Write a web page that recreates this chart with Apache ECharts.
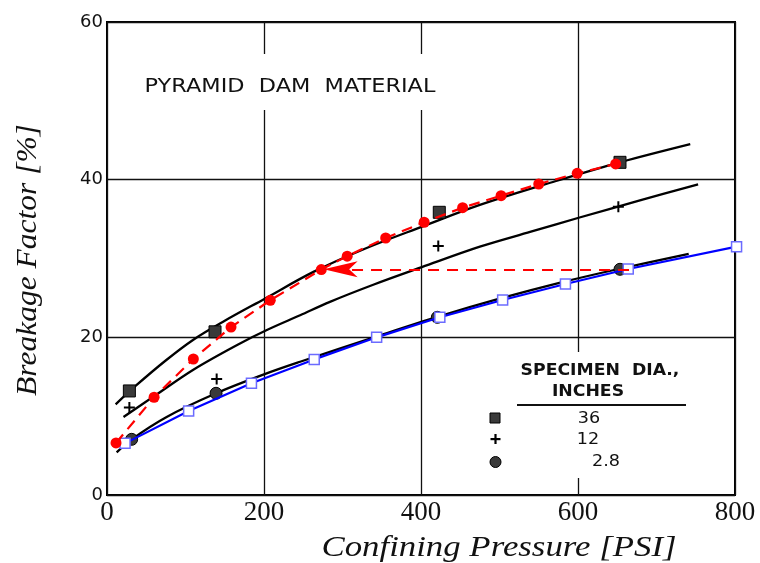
<!DOCTYPE html>
<html><head><meta charset="utf-8">
<script src="https://cdn.jsdelivr.net/npm/echarts@6/dist/echarts.min.js"></script>
<style>html,body{margin:0;padding:0;background:#fff}#c{width:760px;height:563px}</style>
</head><body><div id="c"></div>
<script>
// axis ranges
const xMin = 0, xMax = 800, xStep = 200;
const yMin = 0, yMax = 60, yStep = 20;

// black fitted curves (original figure)
const curve36X = [11, 36, 74, 110, 150, 201, 263, 330, 403, 475, 571, 653.5, 743];
const curve36Y = [11.5, 13.8, 17.0, 19.7, 22.1, 24.9, 28.3, 31.3, 34.1, 36.8, 39.8, 42.2, 44.5];
const curve12X = [21, 61, 110, 167, 203, 246, 284, 340, 401, 475, 540, 602, 680, 753];
const curve12Y = [9.9, 12.6, 15.9, 19.1, 20.9, 22.8, 24.5, 26.7, 28.9, 31.5, 33.4, 35.2, 37.4, 39.4];
const curve28X = [12.3, 31.4, 76, 139, 200, 246, 343, 421, 500, 580, 653, 741];
const curve28Y = [5.4, 7.06, 9.9, 12.9, 15.3, 16.9, 20.1, 22.6, 24.9, 27.0, 28.7, 30.6];

// original measured points by specimen diameter
const sq36X = [28.5, 137.6, 423.3, 653.5];
const sq36Y = [13.2, 20.7, 35.86, 42.2];
const plus12X = [28.5, 139.7, 422, 651.4];
const plus12Y = [11.1, 14.7, 31.6, 36.57];
const circ28X = [31.4, 138.9, 420.8, 653.5];
const circ28Y = [7.06, 12.9, 22.54, 28.63];

// red digitised (dashed) series
const redX = [11.5, 60, 110, 158, 208, 273, 306, 355, 404, 453, 502, 550, 599, 648];
const redY = [6.6, 12.4, 17.25, 21.3, 24.7, 28.6, 30.3, 32.6, 34.6, 36.45, 37.97, 39.45, 40.8, 42.0];

const blueX = [23, 104, 184, 264, 343.5, 424, 504, 584, 664, 802];
const blueY = [6.55, 10.66, 14.17, 17.2, 20.0, 22.54, 24.74, 26.77, 28.67, 31.5];

// red arrow (from 2.8" level to 36" curve)
const arrowFrom = [665, 28.63];
const arrowTo = [276, 28.63];

// texts
const titleText = 'PYRAMID  DAM  MATERIAL';
const xName = 'Confining Pressure [PSI]';
const yName = 'Breakage Factor [%]';
const legendTitle1 = 'SPECIMEN  DIA.,';
const legendTitle2 = 'INCHES';
const legendLabels = ['36', '12', '2.8'];

const zip = (xs, ys) => xs.map((x, i) => [x, ys[i]]);
const plusPath = 'path://M4.5,0 H6.5 V4.5 H11 V6.5 H6.5 V11 H4.5 V6.5 H0 V4.5 H4.5 Z';

const chart = echarts.init(document.getElementById('c'), null, {renderer: 'canvas'});

const curveStyle = {color: '#000', width: 2.3};
function curve(xs, ys) {
  return {type: 'line', data: zip(xs, ys), showSymbol: false, smooth: 0.35,
    lineStyle: curveStyle, z: 2, silent: true, animation: false};
}

const option = {
  backgroundColor: '#fff',
  animation: false,
  grid: {left: 107, right: 25, top: 22, bottom: 68, show: true, borderColor: '#000', borderWidth: 2, backgroundColor: 'transparent'},
  xAxis: {
    type: 'value', min: xMin, max: xMax, interval: xStep,
    axisLine: {show: false}, axisTick: {show: false},
    splitLine: {show: true, lineStyle: {color: '#111', width: 1.3}},
    axisLabel: {fontFamily: 'Liberation Serif', fontSize: 27, color: '#111', margin: 4}
  },
  yAxis: {
    type: 'value', min: yMin, max: yMax, interval: yStep,
    axisLine: {show: false}, axisTick: {show: false},
    splitLine: {show: true, lineStyle: {color: '#111', width: 1.3}},
    axisLabel: {fontFamily: 'DejaVu Sans', fontSize: 18, color: '#111', margin: 4}
  },
  graphic: [
    // gaps in grid lines behind texts
    {type: 'rect', shape: {x: 140, y: 54, width: 300, height: 56}, style: {fill: '#fff'}, z: 1},
    {type: 'rect', shape: {x: 485, y: 352, width: 205, height: 126}, style: {fill: '#fff'}, z: 1},
    {type: 'text', x: 290, y: 87, scaleX: 1.18, z: 10,
      style: {text: titleText, fontFamily: 'DejaVu Sans', fontSize: 19, fill: '#111', align: 'center', verticalAlign: 'middle'}},
    {type: 'text', x: 600, y: 371, scaleX: 1.15, z: 10,
      style: {text: legendTitle1, fontFamily: 'DejaVu Sans', fontWeight: 'bold', fontSize: 15, fill: '#111', align: 'center', verticalAlign: 'middle'}},
    {type: 'text', x: 588, y: 392, scaleX: 1.15, z: 10,
      style: {text: legendTitle2, fontFamily: 'DejaVu Sans', fontWeight: 'bold', fontSize: 15, fill: '#111', align: 'center', verticalAlign: 'middle'}},
    {type: 'line', shape: {x1: 517, y1: 405, x2: 686, y2: 405}, style: {stroke: '#111', lineWidth: 2.2}, z: 10},
    {type: 'text', x: 589, y: 419, scaleX: 1.1, z: 10,
      style: {text: legendLabels[0], fontFamily: 'DejaVu Sans', fontSize: 16, fill: '#111', align: 'center', verticalAlign: 'middle'}},
    {type: 'text', x: 588, y: 440, scaleX: 1.1, z: 10,
      style: {text: legendLabels[1], fontFamily: 'DejaVu Sans', fontSize: 16, fill: '#111', align: 'center', verticalAlign: 'middle'}},
    {type: 'text', x: 606, y: 462, scaleX: 1.1, z: 10,
      style: {text: legendLabels[2], fontFamily: 'DejaVu Sans', fontSize: 16, fill: '#111', align: 'center', verticalAlign: 'middle'}},
    {type: 'rect', shape: {x: 490, y: 413, width: 10, height: 10}, style: {fill: '#3a3a3a', stroke: '#000', lineWidth: 1}, z: 10},
    {type: 'rect', shape: {x: 490.5, y: 438, width: 10, height: 2.2}, style: {fill: '#000'}, z: 10},
    {type: 'rect', shape: {x: 494.4, y: 434, width: 2.2, height: 10}, style: {fill: '#000'}, z: 10},
    {type: 'circle', shape: {cx: 495.5, cy: 462, r: 5.5}, style: {fill: '#3a3a3a', stroke: '#000', lineWidth: 1}, z: 10},
    // axis names
    {type: 'text', x: 499, y: 548, scaleX: 1.16, z: 10,
      style: {text: xName, fontFamily: 'Liberation Serif', fontStyle: 'italic', fontSize: 30, fill: '#111', align: 'center', verticalAlign: 'middle'}},
    {type: 'text', x: 28, y: 260, rotation: Math.PI / 2, scaleX: 1.05, z: 10,
      style: {text: yName, fontFamily: 'Liberation Serif', fontStyle: 'italic', fontSize: 30, fill: '#111', align: 'center', verticalAlign: 'middle'}}
  ],
  series: [
    curve(curve36X, curve36Y),
    curve(curve12X, curve12Y),
    curve(curve28X, curve28Y),
    {type: 'scatter', data: zip(sq36X, sq36Y), symbol: 'rect', symbolSize: 12, z: 3,
      itemStyle: {color: '#3a3a3a', borderColor: '#000', borderWidth: 1, opacity: 1}},
    {type: 'scatter', data: zip(plus12X, plus12Y), symbol: plusPath, symbolSize: 11, z: 3,
      itemStyle: {color: '#000', opacity: 1}},
    {type: 'scatter', data: zip(circ28X, circ28Y), symbol: 'circle', symbolSize: 12, z: 3,
      itemStyle: {color: '#3a3a3a', borderColor: '#000', borderWidth: 1, opacity: 1}},
    {type: 'line', data: zip(blueX, blueY), symbol: 'rect', symbolSize: 10, showAllSymbol: true, clip: false, z: 4,
      lineStyle: {color: '#0000ff', width: 2.2},
      itemStyle: {color: '#fff', borderColor: '#6b6bff', borderWidth: 1.5}},
    {type: 'line', data: zip(redX, redY), symbol: 'circle', symbolSize: 11, showAllSymbol: true, z: 5,
      lineStyle: {color: '#ff0000', width: 2.2, type: [11, 7]},
      itemStyle: {color: '#ff0000', borderWidth: 0},
      markLine: {
        silent: true, symbol: ['none', 'arrow'], symbolSize: [12, 34], animation: false,
        label: {show: false},
        lineStyle: {color: '#ff0000', width: 2.2, type: [11, 8]},
        data: [[{coord: arrowFrom}, {coord: arrowTo}]]
      }}
  ]
};
chart.setOption(option);
</script>
</body></html>
